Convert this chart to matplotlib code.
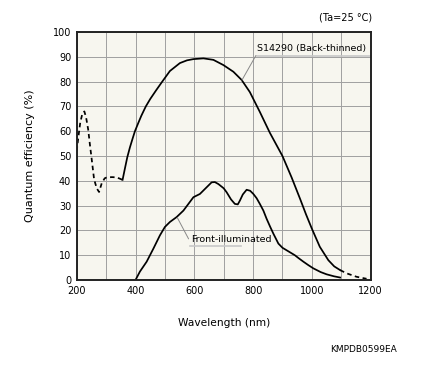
import matplotlib.pyplot as plt

# S14290 back-thinned: dashed UV part, solid main part, dashed IR tail
bt_uv_wl = [200, 206, 212, 219, 226, 232, 239, 245, 251, 259, 268, 276, 285, 295,
            302, 320, 336, 356]
bt_uv_qe = [52, 58, 63.5, 67, 68, 65.5, 60.7, 54.5, 48.7, 40.7, 37, 35.5, 39,
            41, 41.4, 41.5, 41.4, 40.4]
bt_wl = [356, 364, 372, 381, 390, 398, 410, 420, 435, 450, 470, 489, 517, 551,
         575, 597, 631, 665, 699, 733, 761, 789, 823, 857, 900, 931, 960, 980,
         1000, 1027, 1056, 1076, 1096]
bt_qe = [40.4, 45, 49.5, 53.5, 57, 60, 63.5, 66.3, 70, 73, 76.5, 79.7, 84.3,
         87.5, 88.6, 89.1, 89.4, 88.8, 86.7, 84, 80.7, 75.8, 67.8, 59.4, 50,
         41.4, 32.7, 26.5, 20.7, 13.4, 8, 5.5, 4]
bt_ir_wl = [1096, 1118, 1152, 1186]
bt_ir_qe = [4, 2.7, 1.3, 0.5]

# front-illuminated CCD
fi_wl = [400, 415, 438, 461, 483, 500, 517, 540, 563, 580, 597, 619, 636, 659,
         670, 682, 700, 710, 725, 738, 748, 755, 765, 778, 790, 801, 812, 823,
         835, 846, 858, 869, 886, 900, 914, 928, 942, 955, 971, 988, 1005, 1030,
         1050, 1075, 1096]
fi_qe = [0, 3.4, 7.4, 12.7, 18, 21.4, 23.4, 25.4, 28, 30.7, 33.4, 34.7, 36.7,
         39.4, 39.5, 38.7, 37, 35.4, 32.5, 30.7, 30.5, 32, 34.5, 36.4, 36, 34.7,
         33, 30.7, 28, 24.7, 21.5, 18.7, 14.7, 13, 12, 11, 10, 8.8, 7.4, 6,
         4.7, 3.2, 2.3, 1.5, 1]

xticks = [200, 400, 600, 800, 1000, 1200]
yticks = list(range(0, 101, 10))

fig = plt.figure(figsize=(4.31, 3.82), dpi=100)
ax = fig.add_axes([0.178, 0.267, 0.682, 0.649])
ax.set_facecolor("#f7f6ef")

dash = (0, (2.6, 2.0))
ax.plot(bt_uv_wl, bt_uv_qe, color="black", lw=1.25, ls=dash)
ax.plot(bt_wl, bt_qe, color="black", lw=1.25)
ax.plot(bt_ir_wl, bt_ir_qe, color="black", lw=1.25, ls=dash)
ax.plot(fi_wl, fi_qe, color="black", lw=1.25)

ax.set_xlim(200, 1200)
ax.set_ylim(0, 100)
ax.set_xticks(range(200, 1201, 100))
ax.set_xticklabels([str(t) if t in xticks else "" for t in range(200, 1201, 100)])
ax.set_yticks(yticks)
ax.grid(True, color="#a0a0a0", lw=0.7)
ax.set_axisbelow(True)
ax.tick_params(length=0, labelsize=7, pad=4)
for s in ax.spines.values():
    s.set_linewidth(1.4)
    s.set_color("#222222")

ax.set_xlabel("Wavelength (nm)", fontsize=7.7, labelpad=16)
ax.set_ylabel("Quantum efficiency (%)", fontsize=8, labelpad=13)

# labels with leader lines
ax.annotate("S14290 (Back-thinned)", xy=(762, 80.6), xytext=(815, 93.5),
            fontsize=6.8, va="center", ha="left",
            arrowprops=dict(arrowstyle="-", color="#888888", lw=0.7,
                            shrinkA=0, shrinkB=0, relpos=(0, 0)))
ax.plot([813, 1200], [90.5, 90.5], color="#c8c8c8", lw=1.2)
ax.annotate("Front-illuminated", xy=(542, 25.2), xytext=(590, 16.3),
            fontsize=6.8, va="center", ha="left",
            arrowprops=dict(arrowstyle="-", color="#888888", lw=0.7,
                            shrinkA=0, shrinkB=0, relpos=(0, 0)))
ax.plot([587, 760], [13.6, 13.6], color="#c8c8c8", lw=1.2)

fig.text(372 / 431, 1 - 18 / 382, "(Ta=25 °C)", fontsize=7, ha="right", va="center")
fig.text(397 / 431, 1 - 349 / 382, "KMPDB0599EA", fontsize=6.5, ha="right", va="center")

fig.savefig("out.png", dpi=100)
